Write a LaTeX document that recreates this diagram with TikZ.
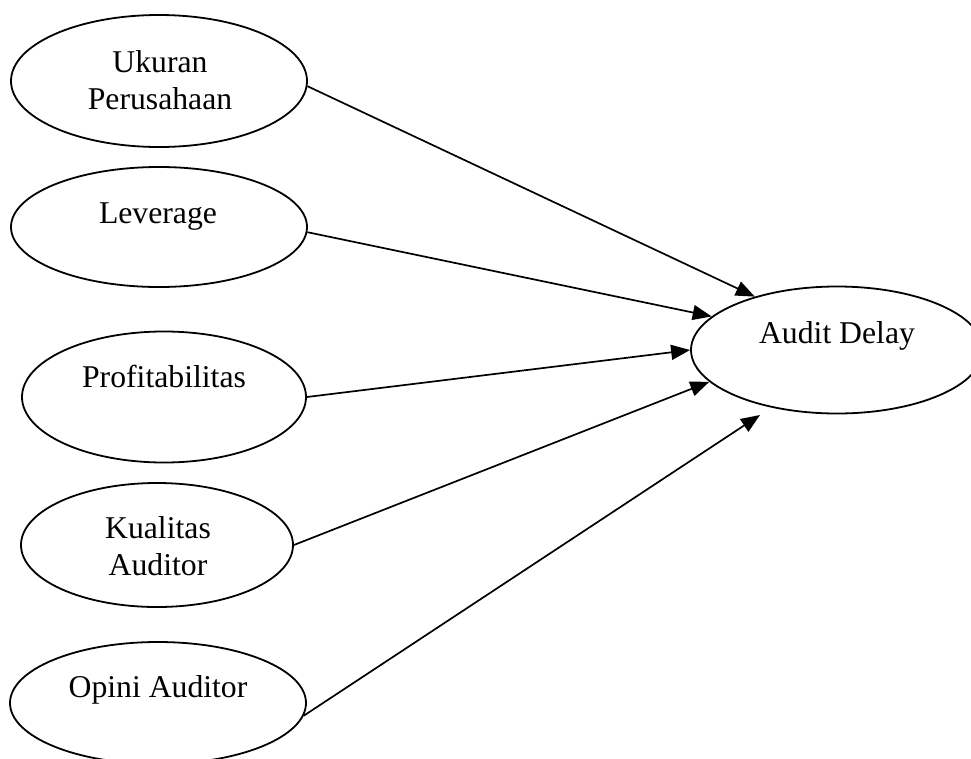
\documentclass[tikz,border=0pt]{standalone}
\usepackage{fontspec}
\setmainfont{Liberation Serif}
\usetikzlibrary{shapes.geometric,arrows.meta}
\begin{document}
\begin{tikzpicture}[x=1pt,y=-1pt,
  oval/.style={draw, ellipse, line width=1.8pt, inner sep=0pt},
  lbl/.style={font=\fontsize{31.7}{36.7}\selectfont, inner sep=0pt, align=center},
  conn/.style={line width=1.7pt, -{Triangle[length=19pt,width=15pt]}}]
\clip (0,0) rectangle (971,758);
\node[oval, minimum width=296pt, minimum height=132pt] (u) at (159,81) {};
\node[oval, minimum width=296pt, minimum height=120pt] (l) at (159,227) {};
\node[oval, minimum width=284pt, minimum height=131pt] (p) at (164,397) {};
\node[oval, minimum width=272pt, minimum height=124pt] (k) at (157,545) {};
\node[oval, minimum width=296pt, minimum height=122pt] (o) at (158,703) {};
\node[oval, minimum width=292pt, minimum height=127pt] (d) at (837,350) {};
\node[lbl] (ut) at (160,80) {Ukuran\\Perusahaan};
\node[lbl, anchor=base] (lt) at (158,223) {Leverage};
\node[lbl, anchor=base] (pt) at (164,387) {Profitabilitas};
\node[lbl] (kt) at (158,546) {Kualitas\\Auditor};
\node[lbl, anchor=base] (ot) at (158,697) {Opini Auditor};
\node[lbl, anchor=base] (dt) at (837,343) {Audit Delay};
\coordinate (d5) at (760,415);
\draw[conn] (u.-2) -- (d.147);
\draw[conn] (l.-2) -- (d.165);
\draw[conn] (p.east) -- (d.west);
\draw[conn] (k.east) -- (d.194);
\draw[conn] (o.-5) -- (d5);
\end{tikzpicture}
\end{document}
